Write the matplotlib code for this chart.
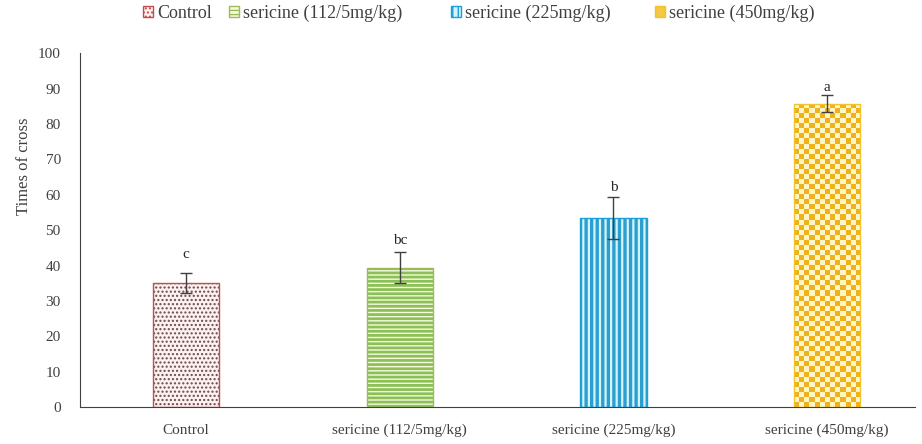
import numpy as np
import matplotlib.pyplot as plt
from matplotlib.patches import Patch
from matplotlib.colors import ListedColormap

plt.rcParams['font.family'] = ['Liberation Serif', 'DejaVu Serif']

groups = ['Control', 'sericine (112/5mg/kg)', 'sericine (225mg/kg)', 'sericine (450mg/kg)']
means = [35.1, 39.4, 53.5, 85.8]
errs = [2.9, 4.4, 5.9, 2.4]
letters = ['c', 'bc', 'b', 'a']
letter_y = [43.0, 47.2, 62.0, 90.2]

edge_cols = ['#c0504d', '#9bbb59', '#1b9fd8', '#f2c12e']
hatch_cols = ['#6a4a4a', '#8cc057', '#2a9fd0', '#f0b21c']
face_cols = ['#fdf0f0', '#f6fbe2', '#d6f3fb', '#fff6c8']
hatches = ['....', '----', '|||', '']
hatch_lw = [1.0, 2.0, 2.4, 1.0]

fig = plt.figure(figsize=(9.22, 4.44), dpi=100)
ax = fig.add_axes([0.087, 0.083, 0.905, 0.797])

x = np.arange(len(groups))
w = 0.31
bars = []
for i in range(len(groups)):
    # pattern layer, then outline on top
    b = ax.bar(x[i], means[i], width=w, color=face_cols[i], edgecolor=hatch_cols[i],
               hatch=hatches[i], linewidth=0, zorder=2)
    b[0].set_hatch_linewidth(hatch_lw[i])
    ax.bar(x[i], means[i], width=w, color='none', edgecolor=edge_cols[i],
           linewidth=1.0, zorder=3)
    bars.append(b[0])

# checker fill for the 450 mg/kg bar, clipped to its rectangle
rect = bars[3]
nx, ny = 13, 60
chk = (np.add.outer(np.arange(ny), np.arange(nx)) % 2).astype(float)
cmap = ListedColormap(['#f0b21c', '#fff6c8'])
x0 = rect.get_x()
im = ax.imshow(chk, cmap=cmap, extent=(x0, x0 + rect.get_width(), 0, means[3]),
               aspect='auto', interpolation='nearest', zorder=2.5, origin='lower')
im.set_clip_path(rect)

ax.errorbar(x, means, yerr=errs, fmt='none', ecolor='#404040', elinewidth=1.0,
            capsize=4.5, capthick=1.0, zorder=4)

for i in range(len(groups)):
    ax.text(x[i], letter_y[i], letters[i], ha='center', va='center',
            fontsize=11, color='#262626')

ax.set_xlim(-0.496, 3.41)
ax.set_ylim(0, 100)
ax.set_yticks(np.arange(0, 101, 10))
ax.set_xticks(x)
ax.set_xticklabels(groups)
ax.tick_params(axis='both', length=0, labelsize=11, colors='#404040')
ax.tick_params(axis='x', pad=12)
ax.tick_params(axis='y', pad=14)
for s in ['top', 'right']:
    ax.spines[s].set_visible(False)
ax.spines['left'].set_color('#404040')
ax.spines['bottom'].set_color('#404040')
ax.set_ylabel('Times of cross', fontsize=12, color='#404040')
ax.yaxis.set_label_coords(-0.058, 0.68)

leg_x = [143, 229, 451, 655]
for i in range(4):
    h = Patch(facecolor=face_cols[i] if i < 3 else '#f5c842', edgecolor=edge_cols[i],
              hatch=hatches[i], linewidth=1.0)
    leg = fig.legend([h], [groups[i]], loc='center left',
                     bbox_to_anchor=(leg_x[i] / 922, 1 - 13 / 444),
                     frameon=False, fontsize=13, handlelength=0.55, handleheight=0.55,
                     handletextpad=0.25, borderpad=0, borderaxespad=0,
                     labelcolor='#404040')

fig.savefig('out.png', dpi=100)
